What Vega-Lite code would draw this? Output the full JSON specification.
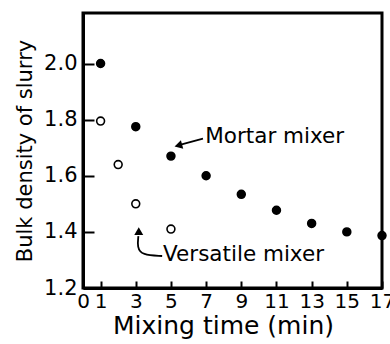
{
  "$schema": "https://vega.github.io/schema/vega-lite/v6.json",
  "width": 299,
  "height": 275,
  "autosize": "none",
  "padding": {"left": 83, "top": 13, "right": 8, "bottom": 56},
  "background": "white",
  "config": {
    "view": {"stroke": "black", "strokeWidth": 3},
    "font": "DejaVu Sans",
    "axis": {"grid": false, "ticks": true, "tickColor": "black", "tickOpacity": 1, "tickWidth": 2, "domainColor": "black", "domainWidth": 3, "labelColor": "black", "titleColor": "black", "labelFont": "DejaVu Sans", "titleFont": "DejaVu Sans", "titleFontWeight": "normal"}
  },
  "datasets": {
    "pts": [
      {"series": "Mortar mixer", "t": 1, "d": 2.0},
      {"series": "Mortar mixer", "t": 3, "d": 1.775},
      {"series": "Mortar mixer", "t": 5, "d": 1.67},
      {"series": "Mortar mixer", "t": 7, "d": 1.6},
      {"series": "Mortar mixer", "t": 9, "d": 1.534},
      {"series": "Mortar mixer", "t": 11, "d": 1.477},
      {"series": "Mortar mixer", "t": 13, "d": 1.43},
      {"series": "Mortar mixer", "t": 15, "d": 1.40},
      {"series": "Mortar mixer", "t": 17, "d": 1.387},
      {"series": "Versatile mixer", "t": 1, "d": 1.795},
      {"series": "Versatile mixer", "t": 2, "d": 1.64},
      {"series": "Versatile mixer", "t": 3, "d": 1.50},
      {"series": "Versatile mixer", "t": 5, "d": 1.41}
    ],
    "xticks": [
      {"t": 1}, {"t": 2}, {"t": 3}, {"t": 4}, {"t": 5}, {"t": 6}, {"t": 7}, {"t": 8},
      {"t": 9}, {"t": 10}, {"t": 11}, {"t": 12}, {"t": 13}, {"t": 14}, {"t": 15}, {"t": 16}
    ],
    "yticks": [
      {"d": 1.3}, {"d": 1.4}, {"d": 1.5}, {"d": 1.6}, {"d": 1.7}, {"d": 1.8}, {"d": 1.9}, {"d": 2.0}, {"d": 2.1}
    ],
    "arrows": [
      {"id": "m", "o": 1, "t": 5.4, "d": 1.708},
      {"id": "m", "o": 2, "t": 6.82, "d": 1.732},
      {"id": "v", "o": 1, "t": 3.15, "d": 1.385},
      {"id": "v", "o": 2, "t": 3.08, "d": 1.346},
      {"id": "v", "o": 3, "t": 3.35, "d": 1.317},
      {"id": "v", "o": 4, "t": 4.5, "d": 1.314}
    ],
    "heads": [
      {"id": "m", "t": 5.42, "d": 1.708, "ang": -15, "shape": "triangle-left"},
      {"id": "v", "t": 3.17, "d": 1.403, "ang": 0, "shape": "triangle-up"}
    ],
    "labels": [
      {"label": "Mortar mixer", "t": 6.95, "d": 1.738},
      {"label": "Versatile mixer", "t": 4.55, "d": 1.318}
    ]
  },
  "encoding": {
    "x": {
      "field": "t", "type": "quantitative",
      "scale": {"domain": [0, 17], "nice": false, "zero": false},
      "axis": {
        "title": "Mixing time (min)",
        "values": [0, 1, 3, 5, 7, 9, 11, 13, 15, 17],
        "tickSize": -7,
        "labelPadding": 10,
        "labelFontSize": 20,
        "titleFontSize": 25,
        "titlePadding": 2,
        "titleX": 140,
        "labelFlush": false,
        "labelOverlap": false,
        "labelBound": false
      }
    },
    "y": {
      "field": "d", "type": "quantitative",
      "scale": {"domain": [1.2, 2.18], "nice": false, "zero": false},
      "axis": {
        "title": "Bulk density of slurry",
        "values": [1.2, 1.4, 1.6, 1.8, 2.0],
        "format": ".1f",
        "tickSize": -11,
        "labelPadding": 17,
        "labelFontSize": 21,
        "titleFontSize": 21,
        "titlePadding": 8,
        "labelFlush": false,
        "labelOverlap": false
      }
    }
  },
  "layer": [
    {
      "data": {"name": "pts"},
      "mark": {"type": "point", "size": 62, "strokeWidth": 1.6, "opacity": 1},
      "encoding": {
        "color": {"value": "black"},
        "fill": {
          "field": "series", "type": "nominal",
          "scale": {"domain": ["Mortar mixer", "Versatile mixer"], "range": ["black", "white"]},
          "legend": null
        },
        "fillOpacity": {"value": 1}
      }
    },
    {
      "data": {"name": "xticks"},
      "mark": {"type": "rule", "color": "black", "strokeWidth": 2, "opacity": 1},
      "encoding": {
        "y": {"datum": 1.2, "type": "quantitative"},
        "y2": {"datum": 1.226}
      }
    },
    {
      "data": {"name": "yticks"},
      "mark": {"type": "rule", "color": "black", "strokeWidth": 2, "opacity": 1},
      "encoding": {
        "x": {"datum": 0, "type": "quantitative"},
        "x2": {"datum": 0.63}
      }
    },
    {
      "data": {"name": "arrows"},
      "mark": {"type": "line", "color": "black", "strokeWidth": 1.8, "interpolate": "basis"},
      "encoding": {
        "detail": {"field": "id"},
        "order": {"field": "o"}
      }
    },
    {
      "data": {"name": "heads"},
      "mark": {"type": "point", "filled": true, "color": "black", "opacity": 1},
      "encoding": {
        "shape": {"field": "shape", "type": "nominal", "scale": null},
        "angle": {"field": "ang", "type": "quantitative", "scale": null},
        "size": {"value": 80}
      }
    },
    {
      "data": {"name": "labels"},
      "mark": {"type": "text", "align": "left", "baseline": "middle", "fontSize": 21.5, "color": "black", "font": "DejaVu Sans"},
      "encoding": {
        "text": {"field": "label"}
      }
    }
  ]
}
